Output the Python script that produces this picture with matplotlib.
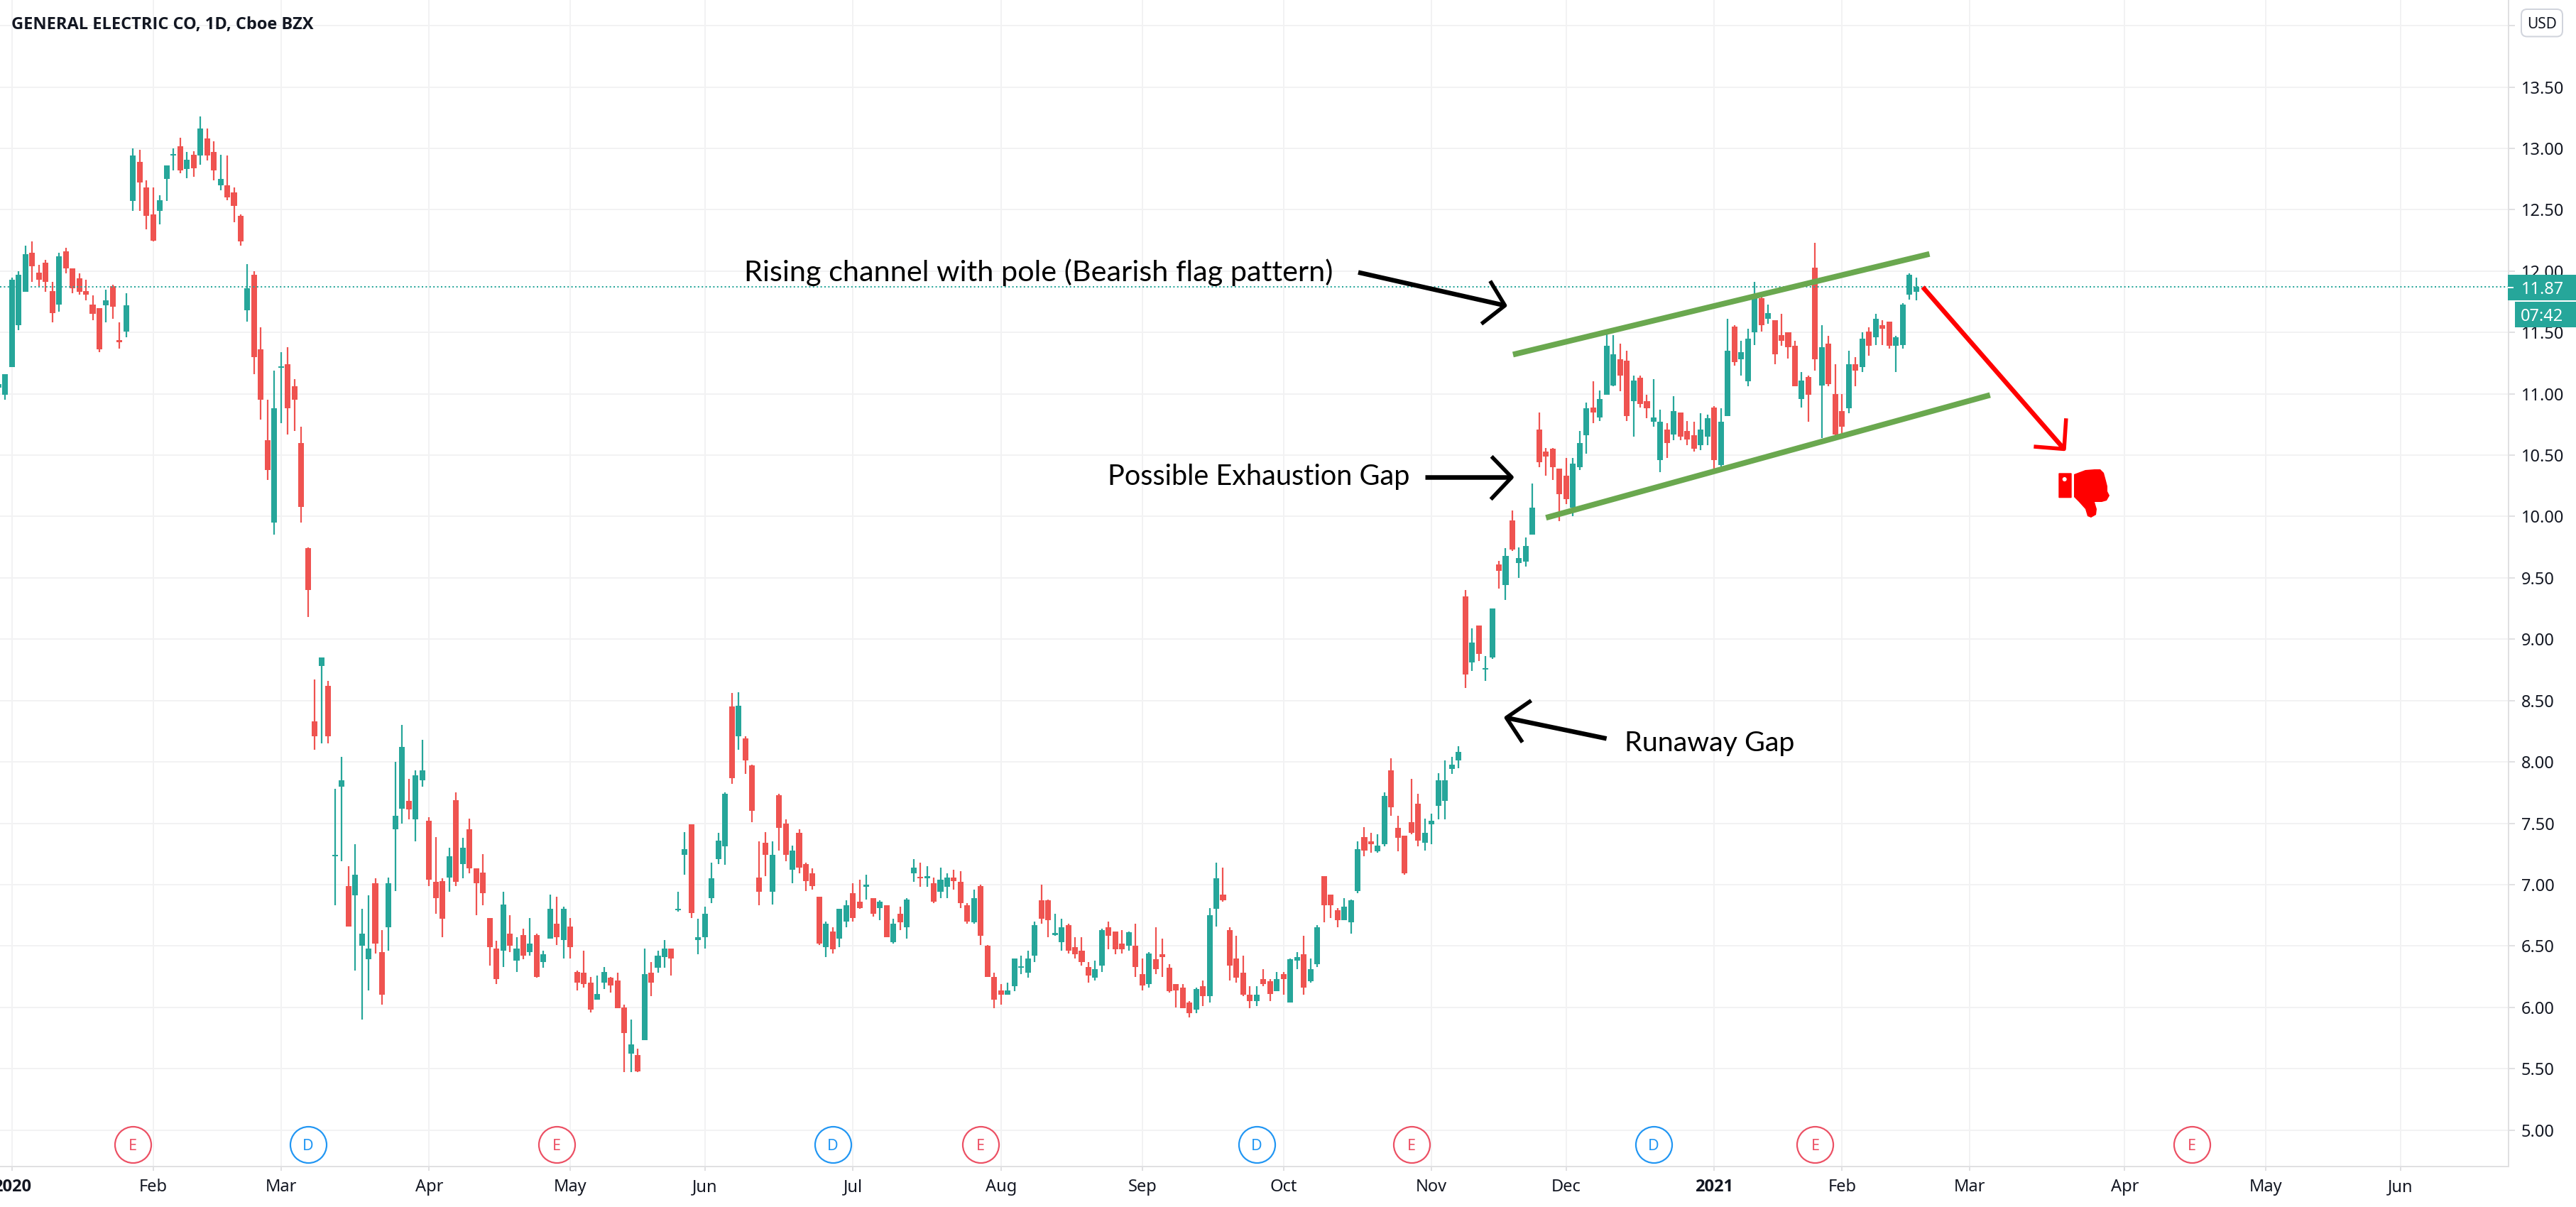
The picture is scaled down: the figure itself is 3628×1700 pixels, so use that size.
import numpy as np
import matplotlib
matplotlib.use('Agg')
import matplotlib.pyplot as plt
from matplotlib.patches import Rectangle, FancyBboxPatch, Polygon, Circle
from matplotlib.transforms import Affine2D

# daily candles, first bar is index -2 (two sessions before the 2020 tick)
first_bar = -2
opens = [
    11.05, 10.99, 11.22, 11.56, 11.83, 12.15, 11.99, 12.07, 11.84, 11.73,
    12.16, 12.02, 11.94, 11.84, 11.73, 11.70, 11.72, 11.88, 11.44, 11.51,
    12.57, 12.89, 12.68, 12.46, 12.49, 12.75, 12.94, 13.02, 12.83, 12.95,
    12.94, 13.08, 12.97, 12.70, 12.70, 12.64, 12.45, 11.68, 11.97, 11.36,
    10.62, 9.95, 11.21, 11.24, 11.06, 10.60, 9.74, 8.33, 8.78, 8.62,
    7.23, 7.80, 6.99, 6.91, 6.50, 6.39, 7.01, 6.45, 6.65, 7.45,
    7.62, 7.68, 7.53, 7.85, 7.52, 7.02, 7.03, 7.06, 7.69, 7.17,
    7.45, 7.13, 7.10, 6.73, 6.48, 6.46, 6.60, 6.38, 6.59, 6.45,
    6.59, 6.37, 6.56, 6.68, 6.55, 6.66, 6.29, 6.28, 6.20, 6.06,
    6.20, 6.24, 6.22, 6.00, 5.62, 5.61, 5.73, 6.28, 6.32, 6.41,
    6.48, 6.79, 7.24, 7.49, 6.55, 6.57, 6.89, 7.21, 7.31, 8.45,
    8.21, 8.19, 7.97, 7.06, 7.34, 6.94, 7.73, 7.50, 7.12, 7.42,
    7.17, 7.09, 6.90, 6.49, 6.62, 6.56, 6.70, 6.93, 6.86, 6.98,
    6.89, 6.81, 6.83, 6.53, 6.76, 6.65, 7.09, 7.06, 7.05, 7.01,
    6.94, 6.98, 7.06, 7.02, 6.83, 6.69, 6.99, 6.50, 6.25, 6.14,
    6.10, 6.17, 6.32, 6.28, 6.42, 6.87, 6.87, 6.59, 6.53, 6.67,
    6.49, 6.46, 6.33, 6.24, 6.34, 6.65, 6.62, 6.52, 6.50, 6.50,
    6.27, 6.19, 6.39, 6.43, 6.32, 6.19, 6.16, 6.04, 5.98, 6.17,
    6.09, 6.80, 6.92, 6.63, 6.40, 6.28, 6.10, 6.05, 6.23, 6.21,
    6.13, 6.27, 6.04, 6.38, 6.43, 6.21, 6.35, 7.07, 6.92, 6.79,
    6.71, 6.69, 6.95, 7.39, 7.35, 7.27, 7.33, 7.93, 7.46, 7.40,
    7.51, 7.66, 7.34, 7.49, 7.64, 7.68, 7.94, 8.01, 9.35, 8.81,
    9.11, 8.75, 8.85, 9.61, 9.44, 9.97, 9.62, 9.63, 9.85, 10.71,
    10.53, 10.55, 10.39, 10.33, 10.07, 10.40, 10.66, 10.89, 10.81, 10.99,
    11.07, 11.28, 11.27, 10.94, 11.13, 10.94, 10.77, 10.46, 10.71, 10.67,
    10.85, 10.70, 10.66, 10.58, 10.65, 10.89, 10.42, 10.82, 11.55, 11.28,
    11.10, 11.50, 11.78, 11.61, 11.60, 11.48, 11.50, 11.39, 10.96, 11.14,
    12.03, 11.07, 11.41, 11.00, 10.86, 10.88, 11.24, 11.22, 11.51, 11.46,
    11.56, 11.59, 11.39, 11.40, 11.81, 11.83,
]
highs = [
    11.10, 11.16, 11.95, 12.00, 12.21, 12.24, 12.05, 12.09, 11.91, 12.15,
    12.19, 12.02, 11.98, 11.93, 11.80, 11.70, 11.85, 11.89, 11.58, 11.82,
    13.00, 12.99, 12.74, 12.68, 12.62, 12.86, 13.00, 13.09, 12.97, 12.98,
    13.26, 13.16, 13.06, 12.95, 12.94, 12.68, 12.46, 12.06, 12.00, 11.54,
    10.95, 11.19, 11.34, 11.38, 11.12, 10.73, 9.75, 8.67, 8.85, 8.66,
    7.78, 8.04, 7.15, 7.33, 6.80, 6.91, 7.05, 6.63, 7.06, 8.00,
    8.30, 7.86, 7.93, 8.18, 7.55, 7.39, 7.05, 7.30, 7.75, 7.38,
    7.54, 7.13, 7.25, 6.73, 6.54, 6.94, 6.75, 6.57, 6.64, 6.73,
    6.60, 6.46, 6.92, 6.90, 6.82, 6.73, 6.30, 6.46, 6.25, 6.26,
    6.33, 6.25, 6.28, 6.02, 5.90, 5.66, 6.48, 6.37, 6.46, 6.55,
    6.48, 6.94, 7.43, 7.49, 6.72, 6.82, 7.18, 7.42, 7.75, 8.56,
    8.57, 8.21, 7.98, 7.35, 7.43, 7.35, 7.74, 7.53, 7.32, 7.45,
    7.18, 7.13, 6.90, 6.70, 6.65, 6.80, 6.87, 7.01, 7.04, 7.08,
    6.89, 6.87, 6.83, 6.72, 6.82, 6.89, 7.21, 7.18, 7.15, 7.06,
    7.14, 7.09, 7.12, 7.11, 6.85, 6.96, 7.00, 6.51, 6.28, 6.19,
    6.20, 6.40, 6.42, 6.46, 6.70, 7.00, 6.88, 6.76, 6.72, 6.68,
    6.57, 6.57, 6.37, 6.38, 6.64, 6.70, 6.62, 6.63, 6.62, 6.68,
    6.40, 6.45, 6.65, 6.56, 6.35, 6.19, 6.19, 6.05, 6.16, 6.22,
    6.81, 7.18, 7.14, 6.65, 6.58, 6.42, 6.17, 6.17, 6.31, 6.23,
    6.29, 6.29, 6.40, 6.45, 6.58, 6.40, 6.67, 7.07, 6.92, 6.81,
    6.89, 6.88, 7.35, 7.47, 7.42, 7.41, 7.75, 8.03, 7.56, 7.40,
    7.86, 7.74, 7.54, 7.58, 7.91, 8.01, 8.04, 8.13, 9.40, 9.09,
    9.11, 8.86, 9.25, 9.64, 9.74, 10.05, 9.75, 9.83, 10.27, 10.85,
    10.56, 10.56, 10.39, 10.48, 10.48, 10.70, 10.93, 11.10, 11.03, 11.49,
    11.48, 11.41, 11.35, 11.15, 11.15, 10.99, 11.12, 10.87, 10.76, 10.98,
    10.85, 10.78, 10.77, 10.84, 10.83, 10.90, 10.88, 11.61, 11.56, 11.43,
    11.53, 11.91, 11.80, 11.73, 11.60, 11.65, 11.50, 11.43, 11.18, 11.15,
    12.23, 11.56, 11.47, 11.24, 11.00, 11.35, 11.30, 11.50, 11.54, 11.65,
    11.60, 11.59, 11.47, 11.74, 11.98, 11.95,
]
lows = [
    11.00, 10.95, 11.22, 11.52, 11.83, 11.91, 11.87, 11.83, 11.58, 11.67,
    11.98, 11.82, 11.81, 11.76, 11.60, 11.34, 11.58, 11.61, 11.37, 11.46,
    12.49, 12.49, 12.34, 12.24, 12.38, 12.57, 12.82, 12.80, 12.76, 12.77,
    12.87, 12.90, 12.74, 12.66, 12.58, 12.40, 12.21, 11.59, 11.16, 10.79,
    10.30, 9.85, 10.76, 10.67, 10.70, 9.95, 9.18, 8.10, 8.15, 8.15,
    6.83, 7.19, 6.66, 6.30, 5.90, 6.14, 6.44, 6.02, 6.46, 6.95,
    7.50, 7.53, 7.35, 7.80, 6.99, 6.76, 6.57, 6.94, 6.99, 7.05,
    7.09, 6.75, 6.83, 6.34, 6.19, 6.33, 6.45, 6.29, 6.39, 6.42,
    6.24, 6.32, 6.56, 6.51, 6.40, 6.40, 6.14, 6.16, 5.96, 6.06,
    6.15, 6.12, 5.99, 5.47, 5.47, 5.47, 5.73, 6.09, 6.28, 6.32,
    6.26, 6.78, 7.08, 6.73, 6.43, 6.48, 6.85, 7.17, 7.16, 7.82,
    8.10, 7.90, 7.51, 6.83, 7.07, 6.84, 7.28, 7.19, 7.01, 7.09,
    6.95, 6.96, 6.51, 6.41, 6.44, 6.49, 6.65, 6.70, 6.80, 6.88,
    6.74, 6.71, 6.57, 6.52, 6.63, 6.56, 7.02, 6.98, 6.98, 6.85,
    6.89, 6.89, 6.96, 6.81, 6.68, 6.68, 6.51, 6.25, 5.99, 6.02,
    6.10, 6.13, 6.27, 6.24, 6.37, 6.68, 6.57, 6.58, 6.46, 6.44,
    6.40, 6.34, 6.20, 6.22, 6.29, 6.47, 6.43, 6.44, 6.46, 6.25,
    6.14, 6.16, 6.27, 6.25, 6.12, 6.00, 5.99, 5.92, 5.95, 6.01,
    6.04, 6.66, 6.86, 6.22, 6.20, 6.09, 5.99, 6.01, 6.17, 6.05,
    6.13, 6.10, 6.04, 6.31, 6.10, 6.20, 6.33, 6.69, 6.73, 6.65,
    6.71, 6.60, 6.93, 7.23, 7.26, 7.26, 7.31, 7.56, 7.27, 7.08,
    7.41, 7.31, 7.28, 7.33, 7.53, 7.53, 7.90, 7.95, 8.60, 8.74,
    8.82, 8.66, 8.84, 9.41, 9.32, 9.72, 9.50, 9.59, 9.85, 10.40,
    10.33, 10.30, 9.96, 10.10, 10.00, 10.38, 10.51, 10.76, 10.78, 10.99,
    11.06, 11.02, 10.78, 10.65, 10.89, 10.80, 10.73, 10.36, 10.48, 10.62,
    10.62, 10.58, 10.53, 10.54, 10.58, 10.39, 10.41, 10.82, 11.23, 11.15,
    11.06, 11.40, 11.51, 11.57, 11.24, 11.39, 11.29, 11.06, 10.89, 10.77,
    11.19, 10.64, 11.06, 10.65, 10.68, 10.84, 11.06, 11.18, 11.31, 11.40,
    11.40, 11.37, 11.18, 11.37, 11.77, 11.76,
]
closes = [
    11.08, 11.16, 11.93, 11.97, 12.14, 12.04, 11.93, 11.91, 11.66, 12.12,
    12.02, 11.86, 11.83, 11.81, 11.65, 11.36, 11.76, 11.71, 11.42, 11.72,
    12.94, 12.72, 12.45, 12.25, 12.58, 12.86, 12.95, 12.82, 12.91, 12.84,
    13.16, 12.94, 12.82, 12.75, 12.60, 12.53, 12.24, 11.86, 11.30, 10.95,
    10.38, 10.88, 11.22, 10.88, 10.95, 10.08, 9.40, 8.21, 8.85, 8.21,
    7.24, 7.85, 6.66, 7.08, 6.60, 6.48, 6.52, 6.10, 7.01, 7.56,
    8.12, 7.61, 7.89, 7.93, 7.04, 6.89, 6.72, 7.23, 7.02, 7.30,
    7.13, 7.01, 6.93, 6.49, 6.23, 6.84, 6.50, 6.48, 6.42, 6.52,
    6.25, 6.43, 6.80, 6.57, 6.80, 6.49, 6.20, 6.19, 5.98, 6.11,
    6.29, 6.18, 5.99, 5.79, 5.70, 5.48, 6.27, 6.20, 6.42, 6.48,
    6.40, 6.80, 7.29, 6.77, 6.57, 6.76, 7.05, 7.36, 7.74, 7.87,
    8.46, 8.01, 7.60, 6.94, 7.24, 7.24, 7.46, 7.24, 7.28, 7.14,
    7.03, 6.99, 6.52, 6.68, 6.47, 6.80, 6.83, 6.73, 6.81, 7.00,
    6.76, 6.86, 6.57, 6.68, 6.69, 6.88, 7.14, 7.05, 7.07, 6.86,
    7.04, 7.06, 7.03, 6.85, 6.70, 6.89, 6.58, 6.25, 6.06, 6.10,
    6.14, 6.40, 6.33, 6.40, 6.67, 6.72, 6.71, 6.60, 6.65, 6.46,
    6.43, 6.37, 6.26, 6.31, 6.63, 6.58, 6.47, 6.47, 6.61, 6.33,
    6.18, 6.44, 6.31, 6.41, 6.13, 6.14, 5.99, 5.95, 6.15, 6.09,
    6.75, 7.05, 6.87, 6.34, 6.24, 6.10, 6.05, 6.10, 6.19, 6.11,
    6.23, 6.23, 6.39, 6.41, 6.16, 6.31, 6.65, 6.83, 6.83, 6.71,
    6.82, 6.87, 7.29, 7.28, 7.33, 7.32, 7.72, 7.63, 7.38, 7.09,
    7.42, 7.36, 7.42, 7.52, 7.85, 7.85, 7.98, 8.08, 8.71, 8.97,
    8.88, 8.76, 9.25, 9.56, 9.68, 9.73, 9.66, 9.76, 10.07, 10.44,
    10.49, 10.40, 10.18, 10.14, 10.43, 10.60, 10.88, 10.85, 10.96, 11.39,
    11.32, 11.15, 10.82, 11.11, 10.92, 10.88, 10.81, 10.77, 10.60, 10.86,
    10.65, 10.63, 10.55, 10.71, 10.80, 10.46, 10.77, 11.35, 11.26, 11.34,
    11.45, 11.81, 11.56, 11.66, 11.32, 11.43, 11.38, 11.06, 11.11, 10.99,
    11.28, 11.38, 11.08, 10.67, 10.73, 11.24, 11.19, 11.45, 11.39, 11.61,
    11.53, 11.39, 11.46, 11.73, 11.97, 11.87,
]

month_ticks = [0, 21, 40, 62, 83, 103, 125, 147, 168, 189, 211, 231, 253, 272, 291, 314, 335, 355]
month_labels = ['2020', 'Feb', 'Mar', 'Apr', 'May', 'Jun', 'Jul', 'Aug', 'Sep', 'Oct', 'Nov', 'Dec',
                '2021', 'Feb', 'Mar', 'Apr', 'May', 'Jun']
price_ticks = [5.0, 5.5, 6.0, 6.5, 7.0, 7.5, 8.0, 8.5, 9.0, 9.5, 10.0, 10.5, 11.0, 11.5,
               12.0, 12.5, 13.0, 13.5, 14.0]

event_bars = [18, 44, 81, 122, 144, 185, 208, 244, 268, 324]
event_kinds = ['E', 'D', 'E', 'D', 'E', 'D', 'E', 'D', 'E', 'E']
event_price = 4.883

last_price = 11.87
countdown = '07:42'

# drawings on the chart: [bar index], [price]
upper_bars, upper_prices = [223.1, 285.0], [11.32, 12.14]
lower_bars, lower_prices = [228.0, 294.0], [9.99, 10.99]

arrows = {
    'flag': ([200.1, 221.9], [11.99, 11.72], [219.7, 221.9, 218.4], [11.92, 11.72, 11.57]),
    'exhaustion': ([210.0, 222.9], [10.32, 10.32], [219.9, 222.9, 219.8], [10.49, 10.32, 10.14]),
    'runaway': ([237.0, 222.1], [8.19, 8.36], [225.8, 222.1, 224.5], [8.50, 8.36, 8.16]),
}
red_shaft = ([284.0, 305.0], [11.87, 10.55])
red_head = ([305.3, 305.0, 300.5], [10.80, 10.55, 10.57])

notes = [
    (108.8, 11.92, 'Rising channel with pole (Bearish flag pattern)', 29.8),
    (162.9, 10.26, 'Possible Exhaustion Gap', 28.5),
    (239.7, 8.09, 'Runaway Gap', 28.4),
]

GREEN = '#26a69a'
RED = '#ef5350'
GRID = '#f2f2f3'
AXIS = '#e0e0e2'
INK = '#131722'
FONT = ['Noto Sans', 'DejaVu Sans']
BOLD_FONT = ['Open Sans', 'DejaVu Sans']
NOTE_FONT = ['Lato', 'DejaVu Sans']


def lw(pixels):
    return pixels * 72 / 100


W, H = 3628, 1700
plt.rcParams['font.family'] = FONT
fig = plt.figure(figsize=(W / 100, H / 100), dpi=100, facecolor='white')
ax = fig.add_axes([0, (H - 1643) / H, 3533 / W, 1643 / H])
px_tf = Affine2D().scale(1, -1).translate(0, H)

# one bar is 9.476 px wide, one price unit 172.8 px tall
ax.set_xlim(-1.773, 371.06)
ax.set_ylim(4.702, 14.21)

ax.set_xticks(month_ticks)
ax.set_xticklabels(month_labels)
ax.set_yticks(price_ticks)
ax.set_yticklabels([f'{p:.2f}' if p < 14 else '' for p in price_ticks])
ax.yaxis.tick_right()
ax.grid(True, color=GRID, linewidth=lw(2))
ax.set_axisbelow(True)
ax.tick_params(axis='y', length=lw(9), width=lw(2), color=AXIS, pad=lw(9), labelsize=17, labelcolor=INK)
ax.tick_params(axis='x', length=lw(6), width=lw(2), color=AXIS, pad=lw(11), labelsize=17, labelcolor=INK)
for label, text in zip(ax.get_xticklabels(), month_labels):
    if text.startswith('20'):
        label.set_family(BOLD_FONT)
        label.set_fontweight('bold')
for side in ('top', 'left'):
    ax.spines[side].set_visible(False)
for side in ('right', 'bottom'):
    ax.spines[side].set_color(AXIS)
    ax.spines[side].set_linewidth(lw(2))

o, h, l, c = map(np.array, (opens, highs, lows, closes))
bars = first_bar + np.arange(len(o))
colors = np.where(c >= o, GREEN, RED)
ax.vlines(bars, l, h, colors=colors, linewidth=lw(2.2), zorder=2)
ax.bar(bars, np.maximum(np.abs(c - o), 0.015), bottom=np.minimum(o, c), width=0.85,
       color=colors, linewidth=0, zorder=2.1)

ax.axhline(last_price, color=GREEN, linewidth=lw(2), linestyle=(0, (1, 1.7)), zorder=3,
           dash_capstyle='butt')

for bar, kind in zip(event_bars, event_kinds):
    color = '#ec5064' if kind == 'E' else '#2196f3'
    ax.scatter([bar], [event_price], s=1350, facecolor='white', edgecolor=color, linewidth=lw(2.2),
               zorder=3)
    ax.text(bar, event_price, kind, color=color, fontsize=15.5, ha='center', va='center_baseline', zorder=4)

ax.plot(upper_bars, upper_prices, color='#6aa84f', linewidth=lw(8), solid_capstyle='butt', zorder=4)
ax.plot(lower_bars, lower_prices, color='#6aa84f', linewidth=lw(8), solid_capstyle='butt', zorder=4)

for shaft_x, shaft_y, head_x, head_y in arrows.values():
    ax.plot(shaft_x, shaft_y, color='black', linewidth=lw(6.5), solid_capstyle='butt', zorder=5)
    ax.plot(head_x, head_y, color='black', linewidth=lw(5.5), solid_capstyle='butt', solid_joinstyle='round', zorder=5)
ax.plot(*red_shaft, color='#ff0000', linewidth=lw(6.5), solid_capstyle='butt', zorder=5)
ax.plot(*red_head, color='#ff0000', linewidth=lw(5.5), solid_capstyle='butt', solid_joinstyle='round', zorder=5)

for bar, price, text, size in notes:
    ax.text(bar, price, text, color='black', fontsize=size, family=NOTE_FONT, ha='left', va='baseline', zorder=5)

# thumbs down icon, drawn in figure pixels
fig.add_artist(FancyBboxPatch((2900.3, 667.3), 16.4, 33, boxstyle='round,pad=1', linewidth=0,
                              facecolor='#ff0000', transform=px_tf))
fig.add_artist(Circle((2907.7, 675), 3, facecolor='white', linewidth=0, transform=px_tf))
hand_x = [2921, 2937, 2950, 2958, 2963, 2966, 2968, 2968, 2971, 2967, 2960, 2950, 2953, 2952, 2945, 2940, 2937, 2928, 2921]
hand_y = [668, 662, 661, 661, 666, 677, 685, 692, 698, 705, 707, 707, 717, 725, 729, 727, 717, 707, 700]
fig.add_artist(Polygon(np.column_stack([hand_x, hand_y]), closed=True, facecolor='#ff0000', linewidth=0,
                       joinstyle='round', transform=px_tf))

# price scale decorations
fig.add_artist(FancyBboxPatch((3553.5, 15.5), 53, 33.5, boxstyle='round,pad=2.5,rounding_size=8', linewidth=lw(2),
                              edgecolor='#d1d4dc', facecolor='white', transform=px_tf))
fig.text(3580, 32, 'USD', color=INK, fontsize=15, ha='center', va='center_baseline', transform=px_tf)
fig.add_artist(Rectangle((3532, 387), 96, 36, facecolor=GREEN, linewidth=0, transform=px_tf))
fig.add_artist(Rectangle((3542, 425), 86, 36, facecolor=GREEN, linewidth=0, transform=px_tf))
fig.add_artist(Rectangle((3532, 403.5), 8, 2, facecolor='white', linewidth=0, transform=px_tf))
fig.text(3551, 405, f'{last_price:.2f}', color='white', fontsize=17, ha='left', va='center_baseline', transform=px_tf)
fig.text(3550, 443, countdown, color='white', fontsize=17, ha='left', va='center_baseline', transform=px_tf)

fig.text(16.5, 41, 'GENERAL ELECTRIC CO, 1D, Cboe BZX', color=INK, fontsize=17, fontweight='bold',
         family=BOLD_FONT, ha='left', va='baseline', transform=px_tf)

fig.savefig('out.png', dpi=100)
